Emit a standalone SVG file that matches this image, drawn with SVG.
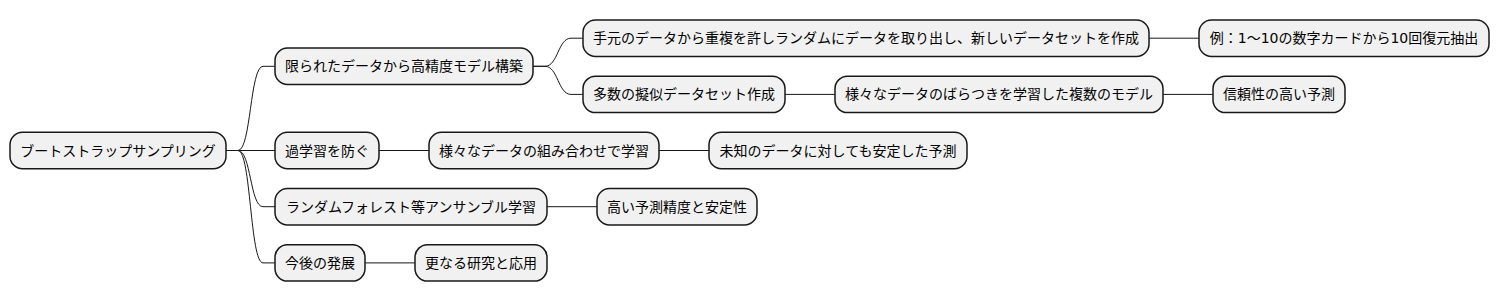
<svg xmlns="http://www.w3.org/2000/svg" width="1499" height="302" viewBox="0 0 1499 302">
<style>
.box{fill:#F1F1F1;stroke:#181818;stroke-width:1.5}
.lbl{font-family:"DejaVu Sans","Noto Sans CJK JP",sans-serif;font-size:14px;fill:#000000;text-anchor:middle}
.edge{fill:none;stroke:#181818;stroke-width:1}
</style>
<rect width="1499" height="302" fill="#FFFFFF"/>
<g id="connectors">
<path class="edge" d="M226 150.5 L238 150.5 C251 150.5 250 66.3 263 66.3 L275 66.3"/>
<path class="edge" d="M226 150.5 L275 150.5"/>
<path class="edge" d="M226 150.5 L238 150.5 C251 150.5 250 206.7 263 206.7 L275 206.7"/>
<path class="edge" d="M226 150.5 L238 150.5 C251 150.5 250 262.9 263 262.9 L275 262.9"/>
<path class="edge" d="M533 66.3 L545 66.3 C558 66.3 558 38.2 571 38.2 L583 38.2"/>
<path class="edge" d="M533 66.3 L545 66.3 C558 66.3 558 94.4 571 94.4 L583 94.4"/>
<path class="edge" d="M1149 38.2 L1199 38.2"/>
<path class="edge" d="M785 94.4 L835 94.4"/>
<path class="edge" d="M1163 94.4 L1213 94.4"/>
<path class="edge" d="M379 150.5 L429 150.5"/>
<path class="edge" d="M659 150.5 L709 150.5"/>
<path class="edge" d="M547 206.7 L597 206.7"/>
<path class="edge" d="M365 262.9 L415 262.9"/>
</g>
<g id="root"><rect class="box" x="10" y="132.3" width="216" height="36.4" rx="12.5"/><text class="lbl" x="118" y="155.5">ブートストラップサンプリング</text></g>
<g id="n1"><rect class="box" x="275" y="48.1" width="258" height="36.4" rx="12.5"/><text class="lbl" x="404" y="71.3">限られたデータから高精度モデル構築</text></g>
<g id="n2"><rect class="box" x="275" y="132.3" width="104" height="36.4" rx="12.5"/><text class="lbl" x="327" y="155.5">過学習を防ぐ</text></g>
<g id="n3"><rect class="box" x="275" y="188.5" width="272" height="36.4" rx="12.5"/><text class="lbl" x="411" y="211.7">ランダムフォレスト等アンサンブル学習</text></g>
<g id="n4"><rect class="box" x="275" y="244.7" width="90" height="36.4" rx="12.5"/><text class="lbl" x="320" y="267.9">今後の発展</text></g>
<g id="n11"><rect class="box" x="583" y="20" width="566" height="36.4" rx="12.5"/><text class="lbl" x="866" y="43.2">手元のデータから重複を許しランダムにデータを取り出し、新しいデータセットを作成</text></g>
<g id="n12"><rect class="box" x="583" y="76.2" width="202" height="36.4" rx="12.5"/><text class="lbl" x="684" y="99.4">多数の擬似データセット作成</text></g>
<g id="n21"><rect class="box" x="429" y="132.3" width="230" height="36.4" rx="12.5"/><text class="lbl" x="544" y="155.5">様々なデータの組み合わせで学習</text></g>
<g id="n31"><rect class="box" x="597" y="188.5" width="160" height="36.4" rx="12.5"/><text class="lbl" x="677" y="211.7">高い予測精度と安定性</text></g>
<g id="n41"><rect class="box" x="415" y="244.7" width="132" height="36.4" rx="12.5"/><text class="lbl" x="481" y="267.9">更なる研究と応用</text></g>
<g id="n111"><rect class="box" x="1199" y="20" width="290" height="36.4" rx="12.5"/><text class="lbl" x="1344" y="43.2">例：1〜10の数字カードから10回復元抽出</text></g>
<g id="n121"><rect class="box" x="835" y="76.2" width="328" height="36.4" rx="12.5"/><text class="lbl" x="999" y="99.4">様々なデータのばらつきを学習した複数のモデル</text></g>
<g id="n211"><rect class="box" x="709" y="132.3" width="258" height="36.4" rx="12.5"/><text class="lbl" x="838" y="155.5">未知のデータに対しても安定した予測</text></g>
<g id="n1211"><rect class="box" x="1213" y="76.2" width="132" height="36.4" rx="12.5"/><text class="lbl" x="1279" y="99.4">信頼性の高い予測</text></g>
</svg>
